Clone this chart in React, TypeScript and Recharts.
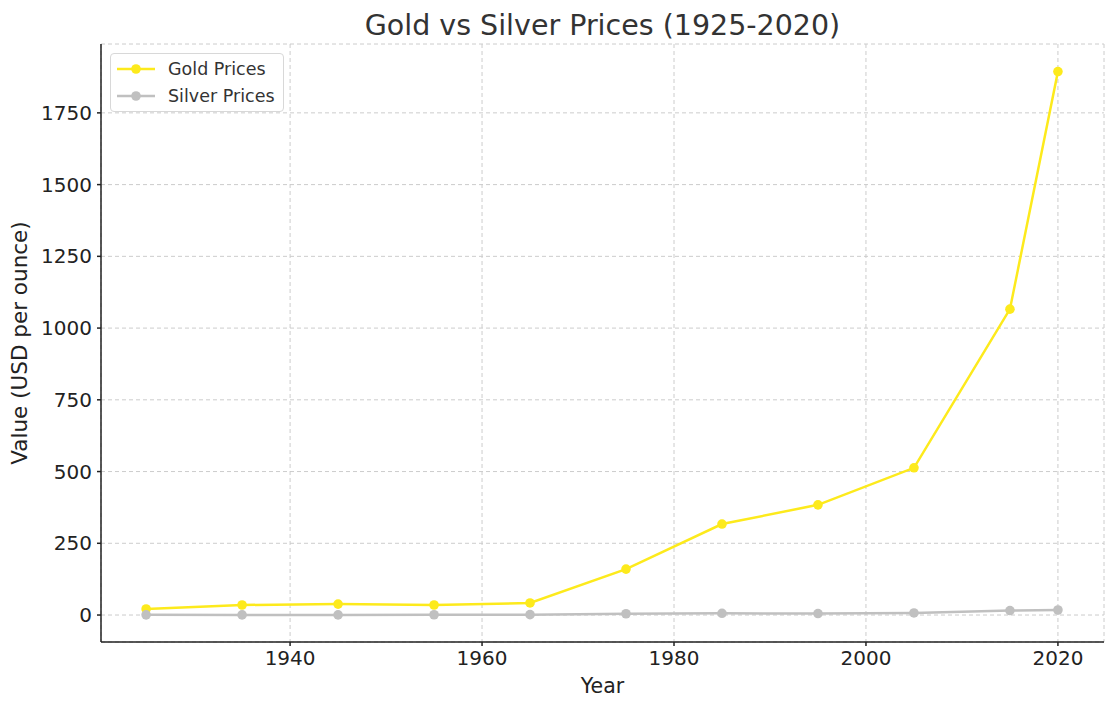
import React from "react";
import {
  LineChart,
  Line,
  XAxis,
  YAxis,
  CartesianGrid,
} from "recharts";

const years = [1925, 1935, 1945, 1955, 1965, 1975, 1985, 1995, 2005, 2015, 2020];
const goldPrices = [21, 35, 38, 35, 42, 160, 317, 384, 513, 1066, 1894];
const silverPrices = [0.7, 0.5, 0.5, 0.9, 1.3, 4.4, 6.1, 5.2, 7.3, 15.7, 17.5];
const xTicks = [1940, 1960, 1980, 2000, 2020];
const yTicks = [0, 250, 500, 750, 1000, 1250, 1500, 1750];

const GOLD = "#fdea1c";
const SILVER = "#c0c0c0";
const FONT = "DejaVu Sans, sans-serif";

const data = years.map((year, i) => ({
  year,
  gold: goldPrices[i],
  silver: silverPrices[i],
}));

function LegendBox() {
  const items = [
    { label: "Gold Prices", color: GOLD },
    { label: "Silver Prices", color: SILVER },
  ];
  return (
    <div
      style={{
        position: "absolute",
        left: 110,
        top: 53,
        width: 174,
        height: 59,
        boxSizing: "border-box",
        border: "1px solid #d8d8d8",
        borderRadius: 4,
        background: "rgba(255,255,255,0.8)",
        padding: "1px 0 0 6px",
        fontFamily: FONT,
        fontSize: 17.5,
        color: "#333",
        zIndex: 2,
      }}
    >
      {items.map((it) => (
        <div key={it.label} style={{ display: "flex", alignItems: "center", height: 27 }}>
          <svg width={40} height={12} style={{ marginRight: 11 }}>
            <line x1={0} y1={6} x2={38} y2={6} stroke={it.color} strokeWidth={2.5} />
            <circle cx={19} cy={6} r={4.8} fill={it.color} />
          </svg>
          <span>{it.label}</span>
        </div>
      ))}
    </div>
  );
}

export default function App() {
  return (
    <div style={{ position: "absolute", left: 0, top: 0, width: 1110, height: 703, background: "#fff" }}>
      <div
        style={{
          position: "absolute",
          left: 101,
          width: 1003,
          top: 9,
          textAlign: "center",
          fontFamily: FONT,
          fontSize: 28.5,
          color: "#333",
          zIndex: 2,
        }}
      >
        Gold vs Silver Prices (1925-2020)
      </div>
      <LegendBox />
      <LineChart
        width={1110}
        height={703}
        data={data}
        margin={{ top: 44, right: 6, left: 0, bottom: 0 }}
      >
        <CartesianGrid stroke="#cccccc" strokeDasharray="4 3" />
        <XAxis
          dataKey="year"
          type="number"
          domain={[1920.3, 2024.8]}
          ticks={xTicks}
          allowDataOverflow
          height={61}
          stroke="#222"
          strokeWidth={1.5}
          tickSize={4}
          tick={{ fill: "#222", fontSize: 20, fontFamily: FONT }}
          tickMargin={5}
          label={{ value: "Year", position: "insideBottom", offset: 10, fill: "#222", fontSize: 20.5, fontFamily: FONT }}
        />
        <YAxis
          type="number"
          domain={[-94, 1990]}
          ticks={yTicks}
          allowDataOverflow
          width={101}
          stroke="#222"
          strokeWidth={1.5}
          tickSize={4}
          tick={{ fill: "#222", fontSize: 20, fontFamily: FONT }}
          tickMargin={5}
          label={{
            value: "Value (USD per ounce)",
            angle: -90,
            position: "insideLeft",
            offset: 19,
            style: { textAnchor: "middle" },
            fill: "#222",
            fontSize: 21.5,
            fontFamily: FONT,
          }}
        />
        <Line
          type="linear"
          dataKey="gold"
          name="Gold Prices"
          stroke={GOLD}
          strokeWidth={2.5}
          dot={{ r: 4.8, fill: GOLD, stroke: GOLD, strokeWidth: 0 }}
          isAnimationActive={false}
        />
        <Line
          type="linear"
          dataKey="silver"
          name="Silver Prices"
          stroke={SILVER}
          strokeWidth={2.5}
          dot={{ r: 4.8, fill: SILVER, stroke: SILVER, strokeWidth: 0 }}
          isAnimationActive={false}
        />
      </LineChart>
    </div>
  );
}
